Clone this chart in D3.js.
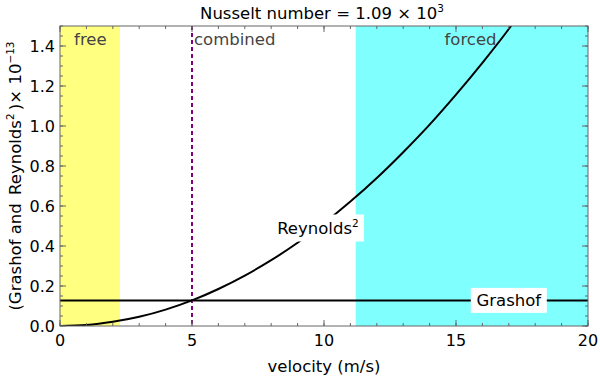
<!DOCTYPE html>
<html>
<head>
<meta charset="utf-8">
<script src="https://cdn.jsdelivr.net/npm/d3@7"></script>
<style>
  body { margin: 0; background: #fff; }
</style>
</head>
<body>
<svg id="chart" width="600" height="380"></svg>
<script>
// velocity (m/s) samples
const velocity = [0, 1, 2, 3, 4, 5, 6, 7, 8, 9, 10, 11, 12, 13, 14, 15, 16, 17, 17.1];
// Reynolds^2 (x 1e-13)
const reynoldsSq = [0, 0.005, 0.021, 0.046, 0.082, 0.128, 0.185, 0.252, 0.329, 0.416, 0.514, 0.622, 0.740, 0.869, 1.007, 1.157, 1.316, 1.485, 1.503];
const grashof = 0.128;
const crossover = 5;
// regime bands [start, end] in velocity
const regimes = [
  { name: "free", x0: 0, x1: 2.27, color: "#ffff80" },
  { name: "forced", x0: 11.2, x1: 20, color: "#80ffff" }
];
const xTicks = [0, 5, 10, 15, 20];
const yTicks = [0, 0.2, 0.4, 0.6, 0.8, 1.0, 1.2, 1.4];

const FONT = "DejaVu Sans";
const LABEL_SIZE = "16.5px";
const TICK_SIZE = "16px";

const svg = d3.select("#chart");
const margin = { top: 26, right: 12, bottom: 54, left: 60 };
const width = 600 - margin.left - margin.right;
const height = 380 - margin.top - margin.bottom;

const x = d3.scaleLinear().domain([0, 20]).range([0, width]);
const y = d3.scaleLinear().domain([0, 1.5]).range([height, 0]);

const g = svg.append("g").attr("transform", `translate(${margin.left},${margin.top})`);

g.append("clipPath").attr("id", "clip")
  .append("rect").attr("width", width).attr("height", height);

// regime bands
g.selectAll(".band")
  .data(regimes)
  .enter()
  .append("rect")
  .attr("x", d => x(d.x0))
  .attr("y", 0)
  .attr("width", d => x(d.x1) - x(d.x0))
  .attr("height", height)
  .attr("fill", d => d.color);

// grashof line
g.append("line")
  .attr("x1", x(0)).attr("x2", x(20))
  .attr("y1", y(grashof)).attr("y2", y(grashof))
  .attr("stroke", "#000").attr("stroke-width", 2);

// crossover marker
g.append("line")
  .attr("x1", x(crossover)).attr("x2", x(crossover))
  .attr("y1", 0).attr("y2", height)
  .attr("stroke", "#800080").attr("stroke-width", 2)
  .attr("stroke-dasharray", "4,3");

// reynolds^2 curve
const line = d3.line()
  .x((d, i) => x(velocity[i]))
  .y(d => y(d))
  .curve(d3.curveMonotoneX);

g.append("path")
  .datum(reynoldsSq)
  .attr("clip-path", "url(#clip)")
  .attr("d", line)
  .attr("fill", "none")
  .attr("stroke", "#000")
  .attr("stroke-width", 2);

// regime labels
const labelColor = "#444";
function label(px, anchor, txt) {
  g.append("text").attr("x", px).attr("y", 19).attr("text-anchor", anchor)
    .attr("font-family", FONT).attr("fill", labelColor)
    .style("font-size", LABEL_SIZE).text(txt);
}
label(x(1.15), "middle", "free");
label(x(crossover) + 2, "start", "combined");
label(x(15.55), "middle", "forced");

// curve labels with white boxes
function boxLabel(cx, cy, w, h, build) {
  g.append("rect").attr("x", cx - w / 2).attr("y", cy - h / 2)
    .attr("width", w).attr("height", h).attr("fill", "#fff");
  const t = g.append("text").attr("x", cx).attr("y", cy + 6)
    .attr("font-family", FONT)
    .attr("text-anchor", "middle").style("font-size", LABEL_SIZE).attr("fill", "#000");
  build(t);
}
boxLabel(x(9.77), y(0.49), 92, 27, t => {
  t.append("tspan").text("Reynolds");
  t.append("tspan").attr("dy", -7).style("font-size", "10.5px").text("2");
});
boxLabel(x(17.0), y(grashof), 76, 25, t => t.text("Grashof"));

// frame
g.append("rect").attr("width", width).attr("height", height)
  .attr("fill", "none").attr("stroke", "#666").attr("stroke-width", 1);

// ticks (inward, all four sides)
const tickColor = "#666";
const xMinor = d3.range(0, 21, 1);
const yMinor = d3.range(0, 1.501, 0.05);
function drawXTicks(vals, len, atTop) {
  g.selectAll(null).data(vals).enter().append("line")
    .attr("x1", d => x(d)).attr("x2", d => x(d))
    .attr("y1", atTop ? 0 : height).attr("y2", atTop ? len : height - len)
    .attr("stroke", tickColor);
}
function drawYTicks(vals, len, atRight) {
  g.selectAll(null).data(vals).enter().append("line")
    .attr("y1", d => y(d)).attr("y2", d => y(d))
    .attr("x1", atRight ? width : 0).attr("x2", atRight ? width - len : len)
    .attr("stroke", tickColor);
}
drawXTicks(xMinor, 3, false); drawXTicks(xMinor, 3, true);
drawXTicks(xTicks, 6, false); drawXTicks(xTicks, 6, true);
drawYTicks(yMinor, 3, false); drawYTicks(yMinor, 3, true);
drawYTicks(yTicks, 6, false); drawYTicks(yTicks, 6, true);

// tick labels
g.selectAll(".xl").data(xTicks).enter().append("text")
  .attr("x", d => x(d)).attr("y", height + 20).attr("text-anchor", "middle")
  .attr("font-family", FONT)
  .style("font-size", TICK_SIZE).text(d => d);
g.selectAll(".yl").data(yTicks).enter().append("text")
  .attr("x", -5).attr("y", d => y(d) + 6).attr("text-anchor", "end")
  .attr("font-family", FONT)
  .style("font-size", TICK_SIZE).text(d => d.toFixed(1));

// axis titles
svg.append("text").attr("x", margin.left + width / 2).attr("y", 372)
  .attr("font-family", FONT)
  .attr("text-anchor", "middle").style("font-size", LABEL_SIZE).text("velocity (m/s)");

const yt = svg.append("text")
  .attr("transform", `translate(21,${margin.top + height / 2}) rotate(-90)`)
  .attr("font-family", FONT)
  .attr("text-anchor", "middle").style("font-size", LABEL_SIZE);
yt.append("tspan").text("(Grashof and\u2002Reynolds");
yt.append("tspan").attr("dy", -7).style("font-size", "10.5px").text("2");
yt.append("tspan").attr("dy", 7).text("\u2009)\u00d7 10");
yt.append("tspan").attr("dy", -7).style("font-size", "10.5px").text("\u221213");

const tt = svg.append("text").attr("x", margin.left + width / 2 - 2).attr("y", 19)
  .attr("font-family", FONT)
  .attr("text-anchor", "middle").style("font-size", LABEL_SIZE);
tt.append("tspan").text("Nusselt number = 1.09 \u00d7 10");
tt.append("tspan").attr("dy", -7).style("font-size", "10.5px").text("3");
</script>
</body>
</html>
